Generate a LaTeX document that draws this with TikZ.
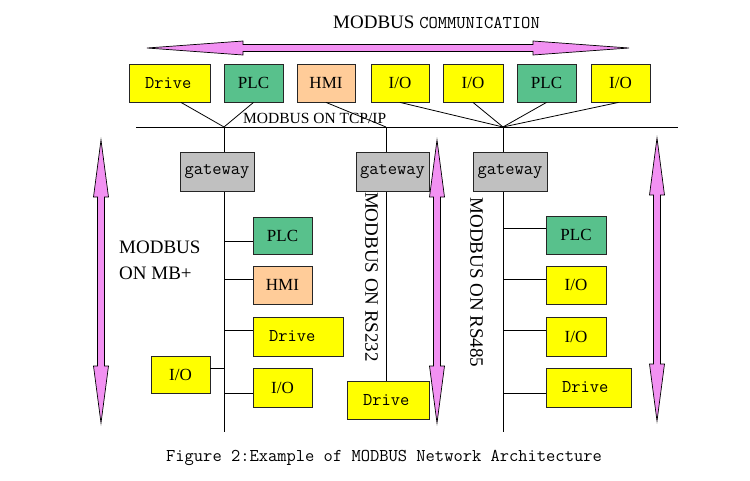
\documentclass[tikz,border=0pt]{standalone}
\usepackage{fontspec}
\setmainfont{Liberation Serif}
\usetikzlibrary{backgrounds}
\definecolor{ylw}{RGB}{255,255,0}
\definecolor{plcgreen}{RGB}{88,193,140}
\definecolor{hmipeach}{RGB}{255,204,153}
\definecolor{gatgray}{RGB}{192,192,192}
\definecolor{pinkc}{RGB}{242,145,242}
\begin{document}
\begin{tikzpicture}[x=1pt,y=-1pt,
  box/.style={draw=black!85, line width=0.8pt, inner sep=0pt, minimum height=38pt, font=\fontsize{17}{20}\selectfont},
  plcbox/.style={box, fill=plcgreen, minimum width=59pt},
  hmibox/.style={box, fill=hmipeach, minimum width=58pt},
  iobox/.style={box, fill=ylw, minimum width=59pt},
  drivebox/.style={box, fill=ylw, font=\ttfamily\fontsize{18}{20}\selectfont, align=left, inner xsep=16pt, text width=#1},
  gatebox/.style={box, fill=gatgray, minimum width=74pt, minimum height=39pt, font=\ttfamily\fontsize{18}{20}\selectfont},
  wire/.style={draw=black, line width=0.8pt},
  pinkarrow/.style={fill=pinkc, draw=black, line width=0.7pt, line join=miter},
  varrow/.pic={\path[pinkarrow] (0,0) -- (7.5,57) -- (3.5,57) -- (3.5,226) -- (7.5,226) -- (0,283) -- (-7.5,226) -- (-3.5,226) -- (-3.5,57) -- (-7.5,57) -- cycle;},
  lbl/.style={inner sep=0pt, font=\fontsize{19}{26}\selectfont}
]
\useasboundingbox (0,0) rectangle (750,480);

% title and horizontal arrow
\node[inner sep=0pt, anchor=base] (title) at (436.5,28.5)
  {\fontsize{19}{22}\selectfont MODBUS \ttfamily\fontsize{18}{22}\selectfont COMMUNICATION};
\path[pinkarrow] (147,48) -- (243,41) -- (243,44.5) -- (533,44.5) -- (533,41) -- (629,48)
  -- (533,55) -- (533,51.5) -- (243,51.5) -- (243,55) -- cycle;

% vertical arrows
\pic at (101,140) {varrow};
\pic at (437,140) {varrow};
\pic at (657,138) {varrow};

% bus coordinates
\coordinate (busL) at (136,127);
\coordinate (busR) at (678,127);
\coordinate (J1) at (224,127);
\coordinate (J2) at (386,127);
\coordinate (J3) at (503,127);
\coordinate (E1) at (224,432);
\coordinate (E3) at (503,432);

% top row
\node[drivebox=49pt] (dT) at (169.5,83) {Drive};
\node[plcbox] (pT1) at (253.5,83) {PLC};
\node[hmibox] (hT) at (326,83) {HMI};
\node[iobox, minimum width=58pt] (iT1) at (400,83) {I/O};
\node[iobox, minimum width=60pt] (iT2) at (473,83) {I/O};
\node[plcbox] (pT2) at (546.5,83) {PLC};
\node[iobox] (iT3) at (620.5,83) {I/O};

% gateways
\node[gatebox] (g1) at (217,171.5) {gateway};
\node[gatebox, minimum width=73pt] (g2) at (392.5,171.5) {gateway};
\node[gatebox] (g3) at (510,171.5) {gateway};

% MB+ column
\node[plcbox, minimum height=37pt] (pA) at (282.5,235.5) {PLC};
\node[hmibox, minimum width=59pt] (hA) at (282.5,285) {HMI};
\node[drivebox=58pt, minimum height=39pt] (dA) at (298,336.5) {Drive};
\node[iobox, minimum height=39pt] (iA) at (282.5,387.5) {I/O};
\node[iobox, minimum height=37pt] (iL) at (180.5,374.5) {I/O};

% RS232
\node[drivebox=50pt] (dB) at (388,400) {Drive};

% RS485 column
\node[plcbox, minimum width=60pt] (pC) at (576,235) {PLC};
\node[iobox, minimum width=60pt] (iC1) at (576,285) {I/O};
\node[iobox, minimum width=60pt, minimum height=39pt] (iC2) at (576,336.5) {I/O};
\node[drivebox=53pt, minimum height=39pt] (dC) at (588.5,387.5) {Drive};

% bus lines
\begin{scope}[on background layer]
\draw[wire] (busL) -- (busR);
\draw[wire] (J1) -- (E1);
\draw[wire] (J2) -- (J2 |- dB.north);
\draw[wire] (J3) -- (E3);
\end{scope}

% top connectors
\draw[wire] ([xshift=11.5pt]dT.south) -- (J1);
\draw[wire] (pT1.south) -- (J1);
\draw[wire] (hT.south) -- (J2);
\draw[wire] (iT1.south) -- (J3);
\draw[wire] (iT2.south) -- (J3);
\draw[wire] (pT2.south) -- (J3);
\draw[wire] ([xshift=-2pt]iT3.south) -- (J3);

% MB+ branches
\draw[wire] ([yshift=-5.5pt]pA.west) -- ([yshift=-5.5pt]pA.west -| J1);
\draw[wire] ([yshift=6pt]hA.west) -- ([yshift=6pt]hA.west -| J1);
\draw[wire] ([yshift=6.5pt]dA.west) -- ([yshift=6.5pt]dA.west -| J1);
\draw[wire] ([yshift=-5.5pt]iA.west) -- ([yshift=-5.5pt]iA.west -| J1);
\draw[wire] ([yshift=6.5pt]iL.east) -- ([yshift=6.5pt]iL.east -| J1);

% RS485 branches
\draw[wire] ([yshift=7pt]pC.west) -- ([yshift=7pt]pC.west -| J3);
\draw[wire] ([yshift=6pt]iC1.west) -- ([yshift=6pt]iC1.west -| J3);
\draw[wire] ([yshift=6.5pt]iC2.west) -- ([yshift=6.5pt]iC2.west -| J3);
\draw[wire] ([yshift=-5.5pt]dC.west) -- ([yshift=-5.5pt]dC.west -| J3);

% labels
\node[inner sep=0pt, anchor=base west, font=\fontsize{15.5}{18}\selectfont] (tcp) at (243,123) {MODBUS ON TCP/IP};
\node[lbl, anchor=north west, align=left] (mbp) at (119,240.7) {MODBUS\\ON MB+};
\node[lbl, rotate=-90] (rs232) at (371.5,277) {MODBUS ON RS232};
\node[lbl, rotate=-90] (rs485) at (476.5,282.5) {MODBUS ON RS485};

% caption
\node[inner sep=0pt, anchor=base, font=\ttfamily\fontsize{18}{22}\selectfont] (cap) at (384,461)
  {Figure 2:Example of MODBUS Network Architecture};
\end{tikzpicture}
\end{document}
